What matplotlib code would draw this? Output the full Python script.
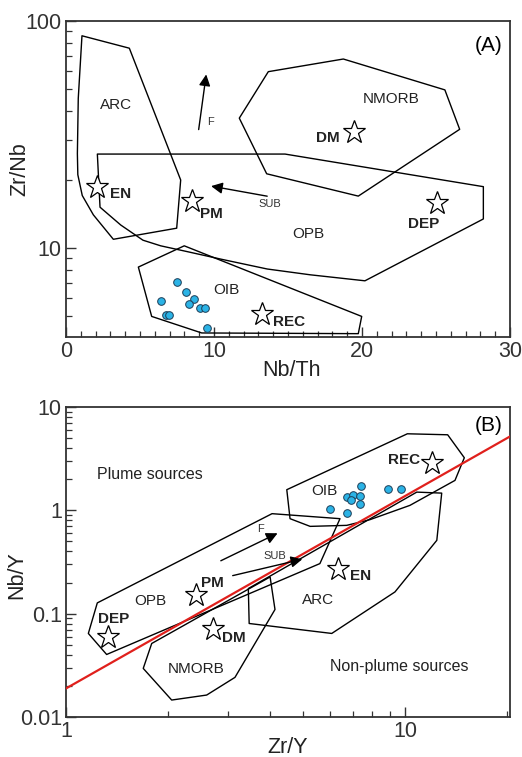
import numpy as np
import matplotlib
matplotlib.use("Agg")
import matplotlib.pyplot as plt
from matplotlib.patches import Polygon
from matplotlib.ticker import FixedLocator, NullFormatter

plt.rcParams['font.family'] = ['Liberation Sans', 'DejaVu Sans']

# ---- (A) Zr/Nb vs Nb/Th ----
a_arc = [(1.08, 86.1), (4.28, 75.9), (7.75, 19.9), (7.48, 12.2), (3.2, 10.9),
         (1.85, 13.97), (1.1, 17.0), (0.8, 21.0), (0.77, 26.0), (0.83, 45.6)]
a_nmorb = [(13.67, 59.8), (18.74, 68.0), (25.6, 49.7), (26.6, 33.3),
           (19.75, 16.9), (13.56, 21.2), (11.71, 37.3)]
a_opb = [(2.12, 25.9), (14.8, 25.9), (28.2, 18.6), (28.2, 13.4), (20.2, 7.15),
         (16.5, 7.6), (13.6, 8.06), (10.5, 8.9), (8.15, 9.63), (6.4, 10.2),
         (5.2, 10.8), (3.7, 12.6), (2.3, 15.1)]
a_oib = [(4.89, 8.22), (7.99, 10.2), (19.98, 4.98), (19.75, 4.18),
         (9.17, 4.21), (5.79, 4.98)]

a_nbth = [7.48, 8.11, 8.67, 8.33, 6.40, 9.05, 9.39, 6.74, 6.96, 9.50]
a_zrnb = [7.03, 6.40, 5.96, 5.66, 5.82, 5.42, 5.42, 5.05, 5.05, 4.41]

a_star_names = ["EN", "PM", "DM", "DEP", "REC"]
a_star_x = [2.1, 8.49, 19.46, 25.1, 13.27]
a_star_y = [18.5, 16.0, 32.3, 15.7, 5.11]
a_star_off = [(17, -5), (14, -9), (-19, -4), (-10, -15), (19, -6)]

a_fields = {"ARC": (3.38, 42.7), "NMORB": (22.0, 45.3), "OPB": (16.4, 11.5), "OIB": (10.86, 6.53)}
a_f_arrow = [(8.94, 32.3), (9.50, 59.8)]
a_sub_arrow = [(13.78, 16.8), (9.62, 18.8)]

# ---- (B) Nb/Y vs Zr/Y ----
b_oib = [(4.48, 1.585), (10.16, 5.51), (13.36, 5.39), (14.96, 3.23), (14.04, 1.95),
         (10.34, 1.118), (7.88, 0.813), (6.73, 0.716), (5.25, 0.700), (4.58, 0.831)]
b_opb = [(1.237, 0.1272), (4.053, 0.929), (6.43, 0.831), (5.61, 0.3055),
         (1.318, 0.0403), (1.164, 0.0644)]
b_nmorb = [(1.79, 0.0515), (4.0, 0.2268), (4.135, 0.1098), (3.151, 0.0242),
           (2.60, 0.01632), (2.05, 0.0146), (1.69, 0.02955)]
b_arc = [(3.45, 0.1752), (10.83, 1.502), (12.83, 1.469), (12.41, 0.513),
         (9.34, 0.1624), (6.08, 0.0644), (3.47, 0.0804)]

b_zry = [7.42, 8.89, 9.73, 6.76, 7.01, 7.37, 6.94, 7.37, 6.02, 6.76]
b_nby = [1.717, 1.596, 1.62, 1.344, 1.396, 1.366, 1.249, 1.161, 1.038, 0.950]

b_star_names = ["REC", "EN", "PM", "DEP", "DM"]
b_star_x = [11.99, 6.36, 2.418, 1.333, 2.72]
b_star_y = [2.864, 0.2734, 0.151, 0.0597, 0.0704]
b_star_off = [(-20, 2), (16, -5), (12, 9), (4, 13), (15, -6)]

b_fields = {"OIB": (5.78, 1.537), "OPB": (1.777, 0.133), "ARC": (5.53, 0.135), "NMORB": (2.418, 0.0289)}
b_plume_line_x = [1.0, 20.4]
b_plume_line_y = [0.0189, 5.19]
b_f_arrow = [(2.814, 0.3166), (4.28, 0.617)]
b_sub_arrow = [(3.046, 0.2303), (5.07, 0.3415)]

dot_color = "#2bb3e6"


def draw_fields(ax, polys, labels):
    for p in polys:
        ax.add_patch(Polygon(p, closed=True, fill=False, edgecolor="black", lw=1.0,
                             joinstyle="round", zorder=2))
    for name, (x, y) in labels.items():
        ax.text(x, y, name, fontsize=11, ha="center", va="center", color="#222222", zorder=3)


def draw_stars(ax, names, xs, ys, offs):
    ax.plot(xs, ys, ls="none", marker="*", ms=17, mfc="white", mec="black", mew=0.9, zorder=4)
    for n, x, y, o in zip(names, xs, ys, offs):
        ax.annotate(n, (x, y), xytext=o, textcoords="offset points", ha="center",
                    va="center", fontsize=11, fontweight="bold", color="#222222", zorder=5)


def draw_arrow(ax, pts):
    ax.annotate("", xy=pts[1], xytext=pts[0],
                arrowprops=dict(arrowstyle="-|>", color="black", lw=1.0, mutation_scale=17),
                zorder=4)


def style_axes(ax):
    for s in ax.spines.values():
        s.set_linewidth(1.3)
        s.set_color("#333333")
    ax.tick_params(which="both", direction="in", top=False, right=False,
                   labelsize=15.5, colors="#333333", pad=3)
    ax.tick_params(which="major", length=7, width=1.0)
    ax.tick_params(which="minor", length=4, width=0.9)


fig = plt.figure(figsize=(5.22, 7.57), dpi=100)

# panel A
axA = fig.add_axes([0.1264, 0.5548, 0.8506, 0.4174])
axA.set_yscale("log")
axA.set_xlim(0, 30)
axA.set_ylim(4.04, 100)
draw_fields(axA, [a_arc, a_nmorb, a_opb, a_oib], a_fields)
axA.plot(a_nbth, a_zrnb, ls="none", marker="o", ms=5.5, mfc=dot_color, mec="#1c3d57",
         mew=0.7, zorder=4)
draw_stars(axA, a_star_names, a_star_x, a_star_y, a_star_off)
draw_arrow(axA, a_f_arrow)
draw_arrow(axA, a_sub_arrow)
axA.text(9.57, 35.8, "F", fontsize=8, ha="left", va="center", color="#333333")
axA.text(13.78, 15.6, "SUB", fontsize=8, ha="center", va="center", color="#333333")
axA.text(0.951, 0.924, "(A)", transform=axA.transAxes, fontsize=15, ha="center", va="center")
axA.set_xticks([0, 10, 20, 30])
axA.xaxis.set_minor_locator(FixedLocator(np.arange(0, 31, 1)))
axA.set_yticks([10, 100])
axA.set_yticklabels(["10", "100"])
axA.yaxis.set_minor_locator(FixedLocator([5, 6, 7, 8, 9, 20, 30, 40, 50, 60, 70, 80, 90]))
axA.yaxis.set_minor_formatter(NullFormatter())
style_axes(axA)
axA.set_xlabel("Nb/Th", fontsize=15.5, color="#222222")
axA.set_ylabel("Zr/Nb", fontsize=15.5, color="#222222")
axA.xaxis.set_label_coords(0.508, -0.073)
axA.yaxis.set_label_coords(-0.081, 0.53)

# panel B
axB = fig.add_axes([0.1264, 0.0528, 0.8506, 0.4095])
axB.set_xscale("log")
axB.set_yscale("log")
axB.set_xlim(1, 20.4)
axB.set_ylim(0.01, 10)
draw_fields(axB, [b_oib, b_opb, b_nmorb, b_arc], b_fields)
axB.plot(b_plume_line_x, b_plume_line_y, color="#e0201c", lw=1.6, zorder=3)
axB.plot(b_zry, b_nby, ls="none", marker="o", ms=5.5, mfc=dot_color, mec="#1c3d57",
         mew=0.7, zorder=4)
draw_stars(axB, b_star_names, b_star_x, b_star_y, b_star_off)
draw_arrow(axB, b_f_arrow)
draw_arrow(axB, b_sub_arrow)
axB.text(3.735, 0.666, "F", fontsize=8, ha="center", va="center", color="#333333")
axB.text(4.12, 0.3595, "SUB", fontsize=8, ha="center", va="center", color="#333333")
axB.text(1.237, 2.23, "Plume sources", fontsize=11.5, ha="left", va="center", color="#222222")
axB.text(9.62, 0.0306, "Non-plume sources", fontsize=11.5, ha="center", va="center",
         color="#222222")
axB.text(0.951, 0.942, "(B)", transform=axB.transAxes, fontsize=15, ha="center", va="center")
axB.set_xticks([1, 10])
axB.set_xticklabels(["1", "10"])
axB.xaxis.set_minor_locator(FixedLocator([2, 3, 4, 5, 6, 7, 8, 9, 20]))
axB.xaxis.set_minor_formatter(NullFormatter())
axB.set_yticks([0.01, 0.1, 1, 10])
axB.set_yticklabels(["0.01", "0.1", "1", "10"])
axB.yaxis.set_minor_locator(FixedLocator([m * 10.0 ** e for e in (-2, -1, 0) for m in range(2, 10)]))
axB.yaxis.set_minor_formatter(NullFormatter())
style_axes(axB)
axB.set_xlabel("Zr/Y", fontsize=15.5, color="#222222")
axB.set_ylabel("Nb/Y", fontsize=15.5, color="#222222")
axB.xaxis.set_label_coords(0.5, -0.065)
axB.yaxis.set_label_coords(-0.088, 0.458)

fig.savefig("out.png", dpi=100)
